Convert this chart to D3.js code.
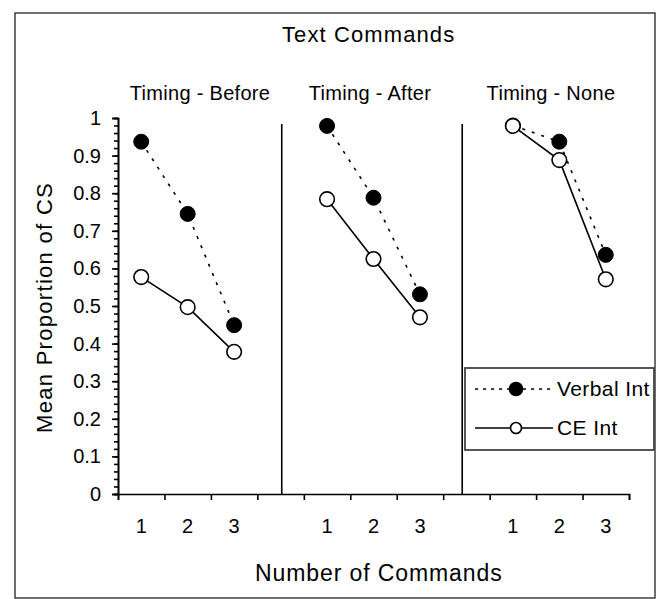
<!DOCTYPE html>
<html>
<head>
<meta charset="utf-8">
<script src="https://cdn.jsdelivr.net/npm/d3@7/dist/d3.min.js"></script>
<style>
  html, body { margin: 0; padding: 0; background: #fff; }
  svg { display: block; }
  text { font-family: "Liberation Sans", Arial, sans-serif; fill: #000; }
</style>
</head>
<body>
<svg id="chart" width="664" height="599"></svg>
<script>
// ---------------- DATA ----------------
const chartTitle = "Text Commands";
const panels = ["Timing - Before", "Timing - After", "Timing - None"];
const categories = ["1", "2", "3"];
const seriesNames = ["Verbal Int", "CE Int"];
// values per panel, per category
const verbalInt = [
  [0.937, 0.745, 0.449],
  [0.979, 0.788, 0.531],
  [0.980, 0.937, 0.636]
];
const ceInt = [
  [0.577, 0.497, 0.378],
  [0.784, 0.625, 0.470],
  [0.979, 0.888, 0.571]
];
const yTicks = [0, 0.1, 0.2, 0.3, 0.4, 0.5, 0.6, 0.7, 0.8, 0.9, 1];
const yTickLabels = ["0", "0.1", "0.2", "0.3", "0.4", "0.5", "0.6", "0.7", "0.8", "0.9", "1"];
const xTitle = "Number of Commands";
const yTitle = "Mean Proportion of CS";

// ---------------- LAYOUT ----------------
const plot = { left: 118, right: 629, top: 118, bottom: 494 };
const slotsPerPanel = 4;        // 3 categories + 1 gap slot
const totalSlots = 11;
const dividerSlots = [3.525, 7.41];
const dividerTop = 124;
const panelTitleX = [200, 370, 551];
const panelTitleY = 100;

const svg = d3.select("#chart");

// outer frame
svg.append("rect")
  .attr("x", 15).attr("y", 13).attr("width", 640).attr("height", 585)
  .attr("fill", "#fff").attr("stroke", "#222").attr("stroke-width", 1.3);

const x = d3.scaleLinear().domain([0, totalSlots]).range([plot.left, plot.right]);
const y = d3.scaleLinear().domain([0, 1]).range([plot.bottom, plot.top]);

const slotCenter = (p, c) => x(p * slotsPerPanel + c + 0.5);

// ---- Y axis ----
const yAxisG = svg.append("g").attr("transform", `translate(${plot.left},0)`);
yAxisG.call(d3.axisLeft(y).tickValues(d3.range(0, 1.0001, 0.02)).tickSize(4).tickFormat(""));
yAxisG.append("g").call(d3.axisLeft(y).tickValues(yTicks).tickSize(6).tickFormat(""));
yAxisG.selectAll("path.domain").attr("stroke", "#000").attr("stroke-width", 1.6);
yAxisG.selectAll(".tick line").attr("stroke", "#000").attr("stroke-width", 1.6);

svg.append("g").selectAll("text").data(yTicks).join("text")
  .attr("x", 101).attr("y", d => y(d)).attr("dy", "0.35em")
  .attr("text-anchor", "end").attr("font-size", 20)
  .text((d, i) => yTickLabels[i]);

// ---- X axis ----
const xAxisG = svg.append("g").attr("transform", `translate(0,${plot.bottom})`);
xAxisG.call(d3.axisBottom(x).tickValues(d3.range(0, totalSlots + 1)).tickSize(6).tickFormat(""));
xAxisG.selectAll("path.domain").attr("stroke", "#000").attr("stroke-width", 1.6);
xAxisG.selectAll(".tick line").attr("stroke", "#000").attr("stroke-width", 1.6);

const xLabels = [];
panels.forEach((p, pi) => categories.forEach((c, ci) => xLabels.push({ pi, ci, c })));
svg.append("g").selectAll("text").data(xLabels).join("text")
  .attr("x", d => slotCenter(d.pi, d.ci)).attr("y", 533)
  .attr("text-anchor", "middle").attr("font-size", 20)
  .text(d => d.c);

// ---- dividers ----
svg.append("g").selectAll("line").data(dividerSlots).join("line")
  .attr("x1", d => x(d)).attr("x2", d => x(d))
  .attr("y1", dividerTop).attr("y2", plot.bottom)
  .attr("stroke", "#000").attr("stroke-width", 1.6);

// ---- titles ----
svg.append("text").attr("x", 282).attr("y", 42)
  .attr("font-size", 22).attr("letter-spacing", 1.1).text(chartTitle);

svg.append("g").selectAll("text").data(panels).join("text")
  .attr("x", (d, i) => panelTitleX[i]).attr("y", panelTitleY)
  .attr("text-anchor", "middle").attr("font-size", 20).attr("letter-spacing", 0.3)
  .text(d => d);

svg.append("text").attr("x", 255).attr("y", 581)
  .attr("font-size", 23).attr("letter-spacing", 0.9).text(xTitle);

svg.append("text")
  .attr("transform", "translate(52,433) rotate(-90)")
  .attr("font-size", 22).attr("letter-spacing", 1.3).text(yTitle);

// ---- series ----
const line = d3.line().x(d => d.x).y(d => d.y);
const seriesPts = (vals) => vals.map((arr, pi) => arr.map((v, ci) => ({ x: slotCenter(pi, ci), y: y(v) })));
const verbalPts = seriesPts(verbalInt);
const cePts = seriesPts(ceInt);

const g = svg.append("g");
verbalPts.forEach(pts => g.append("path").attr("d", line(pts))
  .attr("fill", "none").attr("stroke", "#000").attr("stroke-width", 1.6)
  .attr("stroke-dasharray", "3,7"));
cePts.forEach(pts => g.append("path").attr("d", line(pts))
  .attr("fill", "none").attr("stroke", "#000").attr("stroke-width", 1.6));

g.selectAll("circle.v").data(verbalPts.flat()).join("circle").attr("class", "v")
  .attr("cx", d => d.x).attr("cy", d => d.y).attr("r", 7.5)
  .attr("fill", "#000").attr("stroke", "#000").attr("stroke-width", 1);
g.selectAll("circle.c").data(cePts.flat()).join("circle").attr("class", "c")
  .attr("cx", d => d.x).attr("cy", d => d.y).attr("r", 7.3)
  .attr("fill", "#fff").attr("stroke", "#000").attr("stroke-width", 1.6);

// ---- legend ----
const lg = svg.append("g");
lg.append("rect").attr("x", 465).attr("y", 368).attr("width", 189).attr("height", 82)
  .attr("fill", "#fff").attr("stroke", "#444").attr("stroke-width", 1.8);
const legendRows = [
  { name: seriesNames[0], y: 389, dash: "3,5", fill: "#000", r: 6.5 },
  { name: seriesNames[1], y: 428, dash: null, fill: "#fff", r: 5.5 }
];
legendRows.forEach(r => {
  lg.append("line").attr("x1", 475).attr("x2", 553).attr("y1", r.y).attr("y2", r.y)
    .attr("stroke", "#000").attr("stroke-width", 1.6)
    .attr("stroke-dasharray", r.dash);
  lg.append("circle").attr("cx", 516).attr("cy", r.y).attr("r", r.r)
    .attr("fill", r.fill).attr("stroke", "#000").attr("stroke-width", 1.6);
  lg.append("text").attr("x", 557).attr("y", r.y).attr("dy", "0.35em")
    .attr("font-size", 21).attr("letter-spacing", 0.4).text(r.name);
});
</script>
</body>
</html>
